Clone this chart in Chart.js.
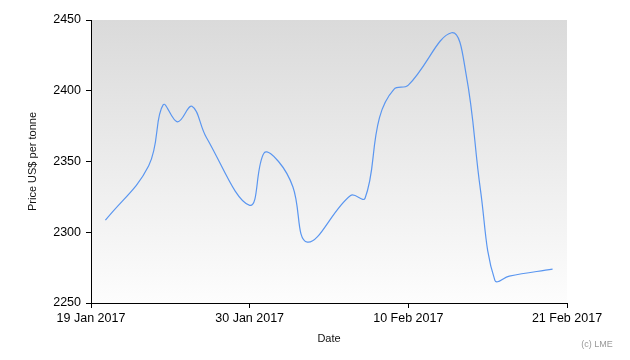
<!DOCTYPE html>
<html>
<head>
<meta charset="utf-8">
<script src="https://cdn.jsdelivr.net/npm/chart.js@4/dist/chart.umd.min.js"></script>
<style>
  html, body { margin: 0; padding: 0; background: #ffffff; }
  #wrap { width: 630px; height: 360px; position: relative; }
</style>
</head>
<body>
<div id="wrap"><canvas id="c" width="630" height="360"></canvas></div>
<script>
// Trading dates (2017) and LME prices, US$ per tonne
const dates = ['2017-01-20','2017-01-23','2017-01-24','2017-01-25','2017-01-26','2017-01-27',
  '2017-01-30','2017-01-31','2017-02-01','2017-02-02','2017-02-03',
  '2017-02-06','2017-02-07','2017-02-08','2017-02-09','2017-02-10',
  '2017-02-13','2017-02-14','2017-02-15','2017-02-16','2017-02-17','2017-02-20'];
const prices = [2308.5, 2347, 2390, 2378, 2389, 2367,
  2319, 2356, 2350, 2332, 2293,
  2326, 2324, 2381, 2401, 2404,
  2441, 2412, 2330, 2266, 2269, 2274];
const tickDates = ['2017-01-19','2017-01-30','2017-02-10','2017-02-21'];
const tickLabels = ['19 Jan 2017','30 Jan 2017','10 Feb 2017','21 Feb 2017'];
const yTicks = [2250, 2300, 2350, 2400, 2450];

const DAY = 86400000;
const origin = Date.parse(tickDates[0] + 'T00:00:00Z');
const toDay = d => Math.round((Date.parse(d + 'T00:00:00Z') - origin) / DAY);
const points = dates.map((d, i) => ({ x: toDay(d), y: prices[i] }));
const tickDays = tickDates.map(toDay);

const bgPlugin = {
  id: 'plotBg',
  beforeDraw(chart) {
    const { ctx, chartArea: a } = chart;
    const g = ctx.createLinearGradient(0, a.top, 0, a.bottom);
    g.addColorStop(0, '#dadada');
    g.addColorStop(1, '#fdfdfd');
    ctx.save();
    ctx.fillStyle = g;
    ctx.fillRect(a.left, a.top, a.right - a.left, a.bottom - a.top);
    ctx.restore();
  },
  afterDraw(chart) {
    const { ctx } = chart;
    ctx.save();
    ctx.font = '9px "Liberation Sans", Arial, sans-serif';
    ctx.fillStyle = '#999999';
    ctx.textAlign = 'center';
    ctx.textBaseline = 'middle';
    ctx.fillText('(c) LME', 597, 345);
    ctx.restore();
  }
};

const font = { family: '"Liberation Sans", Arial, sans-serif', size: 12.5 };
const titleFont = { family: '"Liberation Sans", Arial, sans-serif', size: 11 };

new Chart(document.getElementById('c'), {
  type: 'line',
  data: {
    datasets: [{
      data: points,
      borderColor: '#5a96f0',
      borderWidth: 1.2,
      pointRadius: 0,
      tension: 0.4,
      fill: false
    }]
  },
  options: {
    responsive: false,
    animation: false,
    devicePixelRatio: 1,
    layout: { padding: { top: 20, right: 63, left: 0, bottom: 0 } },
    plugins: { legend: { display: false }, tooltip: { enabled: false } },
    scales: {
      x: {
        type: 'linear',
        min: tickDays[0],
        max: tickDays[tickDays.length - 1],
        afterBuildTicks(scale) { scale.ticks = tickDays.map(v => ({ value: v })); },
        afterFit(scale) { scale.height = 57; },
        ticks: {
          callback: (v) => { const i = tickDays.indexOf(v); return i >= 0 ? tickLabels[i] : ''; },
          color: '#000', font, padding: 3, maxRotation: 0, autoSkip: false
        },
        grid: { drawOnChartArea: false, drawTicks: true, tickLength: 5, color: '#000' },
        border: { display: true, color: '#000', width: 1 },
        title: { display: true, text: 'Date', color: '#111', font: titleFont, padding: { top: 0, bottom: 14.4 } }
      },
      y: {
        min: yTicks[0],
        max: yTicks[yTicks.length - 1],
        afterBuildTicks(scale) { scale.ticks = yTicks.map(v => ({ value: v })); },
        afterFit(scale) { scale.width = 91; },
        ticks: { color: '#000', font, padding: 5, callback: v => String(v) },
        grid: { drawOnChartArea: false, drawTicks: true, tickLength: 5, color: '#000' },
        border: { display: true, color: '#000', width: 1 },
        title: { display: true, text: 'Price US$ per tonne', color: '#111', font: titleFont, padding: { top: 26.4, bottom: 0 } }
      }
    }
  },
  plugins: [bgPlugin]
});
</script>
</body>
</html>
